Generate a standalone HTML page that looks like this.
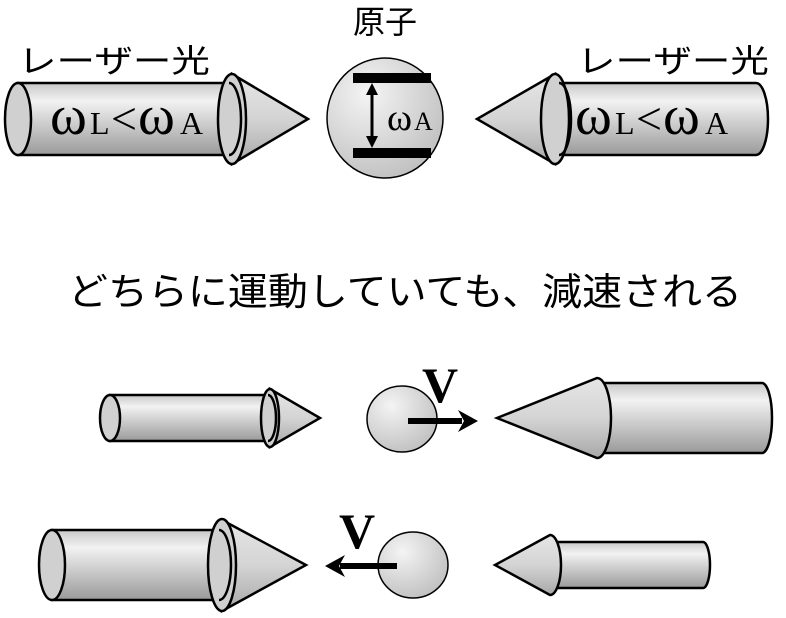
<!DOCTYPE html>
<html><head><meta charset="utf-8"><style>
html,body{margin:0;padding:0;background:#fff}
svg{display:block}
.j{font-family:"Liberation Sans","Noto Sans CJK JP",sans-serif;fill:#000}
.s{font-family:"Liberation Serif",serif;fill:#000}
</style></head><body>
<svg width="786" height="618" viewBox="0 0 786 618" xmlns="http://www.w3.org/2000/svg">
<defs>
<linearGradient id="cyl" x1="0" y1="0" x2="0" y2="1">
<stop offset="0" stop-color="#c8c8c8"/><stop offset="0.25" stop-color="#f2f2f2"/><stop offset="1" stop-color="#9a9a9a"/></linearGradient>
<linearGradient id="cone" x1="0" y1="0" x2="0" y2="1">
<stop offset="0" stop-color="#e6e6e6"/><stop offset="0.5" stop-color="#d4d4d4"/><stop offset="1" stop-color="#a8a8a8"/></linearGradient>
<radialGradient id="ball" cx="0.35" cy="0.3" r="0.8">
<stop offset="0" stop-color="#f4f4f4"/><stop offset="1" stop-color="#bdbdbd"/></radialGradient>
</defs>
<g stroke="#000" stroke-width="2.5">
<!-- top left arrow -->
<path d="M232,74 L308,119 L232,164 Z" fill="url(#cone)"/>
<path d="M18,83 L225,83 A12,36 0 0 1 225,155 L18,155 Z" fill="url(#cyl)"/>
<ellipse cx="232" cy="119" rx="14" ry="45" fill="#d0d0d0"/>
<path d="M229,83 A12,36 0 0 1 229,155" fill="none"/>
<ellipse cx="18" cy="119" rx="13" ry="36" fill="#d0d0d0"/>
<!-- top right arrow -->
<path d="M555,74 L477,119 L555,164 Z" fill="url(#cone)"/>
<path d="M560,83 L756,83 A12,36 0 0 1 756,155 L560,155 Z" fill="url(#cyl)"/>
<ellipse cx="555" cy="119" rx="14" ry="45" fill="#d0d0d0"/>
<path d="M559,83 A12,36 0 0 1 559,155" fill="none"/>
<!-- row2 left small -->
<path d="M270,389 L320,418 L270,447 Z" fill="url(#cone)"/>
<path d="M110,395 L265,395 A8,23 0 0 1 265,441 L110,441 Z" fill="url(#cyl)"/>
<ellipse cx="270" cy="418" rx="9" ry="29" fill="#d0d0d0"/>
<path d="M268,395 A8,23 0 0 1 268,441" fill="none"/>
<ellipse cx="110" cy="418" rx="10" ry="23" fill="#d0d0d0"/>
<!-- row2 right large -->
<path d="M597,383 L762,383 A10,35 0 0 1 762,453 L597,453 Z" fill="url(#cyl)"/>
<path d="M597,378 L497,418 L597,458 A14,40 0 0 0 597,378 Z" fill="url(#cone)"/>
<!-- row3 left large -->
<path d="M222,520 L306,565 L222,611 Z" fill="url(#cone)"/>
<path d="M52,530 L215,530 A12,35 0 0 1 215,600 L52,600 Z" fill="url(#cyl)"/>
<ellipse cx="222" cy="565" rx="14" ry="46" fill="#d0d0d0"/>
<path d="M219,530 A12,35 0 0 1 219,600" fill="none"/>
<ellipse cx="52" cy="565" rx="13" ry="35" fill="#d0d0d0"/>
<!-- row3 right small -->
<path d="M550,542 L703,542 A7,23 0 0 1 703,588 L550,588 Z" fill="url(#cyl)"/>
<path d="M550,535 L495,565 L550,595 A11,30 0 0 0 550,535 Z" fill="url(#cone)"/>
<!-- atoms -->
<ellipse cx="385" cy="118" rx="58" ry="60" fill="url(#ball)" stroke-width="1.5"/>
<ellipse cx="402" cy="419" rx="35" ry="33" fill="url(#ball)" stroke-width="1.5"/>
<ellipse cx="413" cy="565" rx="35" ry="33" fill="url(#ball)" stroke-width="1.5"/>
</g>
<!-- energy levels -->
<rect x="353" y="73" width="78" height="10" fill="#000"/>
<rect x="353" y="148" width="78" height="10" fill="#000"/>
<line x1="372" y1="92" x2="372" y2="139" stroke="#000" stroke-width="3"/>
<path d="M372,83 L366,95 L378,95 Z M372,148 L366,136 L378,136 Z" fill="#000"/>
<text x="387" y="130" class="s" font-size="38">ω</text>
<text x="414" y="130" class="s" font-size="26">A</text>
<!-- velocity arrows -->
<rect x="408" y="418" width="54" height="6" fill="#000"/>
<path d="M478,421 L458,410 L464,421 L458,432 Z" fill="#000"/>
<text x="440" y="402" class="s" font-size="50" font-weight="bold" text-anchor="middle">V</text>
<rect x="340" y="563" width="57" height="6" fill="#000"/>
<path d="M325,566 L345,555 L339,566 L345,577 Z" fill="#000"/>
<text x="357" y="548" class="s" font-size="50" font-weight="bold" text-anchor="middle">V</text>
<!-- ω labels on top arrows -->
<text x="50" y="134" class="s" font-size="56">ω</text>
<text x="90" y="134" class="s" font-size="32">L</text>
<text x="111" y="134" class="s" font-size="46">&lt;</text>
<text x="138" y="134" class="s" font-size="56">ω</text>
<text x="180" y="134" class="s" font-size="32">A</text>
<text x="575" y="134" class="s" font-size="56">ω</text>
<text x="615" y="134" class="s" font-size="32">L</text>
<text x="636" y="134" class="s" font-size="46">&lt;</text>
<text x="663" y="134" class="s" font-size="56">ω</text>
<text x="705" y="134" class="s" font-size="32">A</text>
<!-- Japanese text -->
<text x="385" y="33" class="j" font-size="32" text-anchor="middle">原子</text>
<text x="18" y="72" class="j" font-size="32" textLength="192" lengthAdjust="spacingAndGlyphs">レーザー光</text>
<text x="577" y="72" class="j" font-size="32" textLength="192" lengthAdjust="spacingAndGlyphs">レーザー光</text>
<text x="68" y="305" class="j" font-size="38" textLength="674" lengthAdjust="spacingAndGlyphs">どちらに運動していても、減速される</text>
</svg>
</body></html>
